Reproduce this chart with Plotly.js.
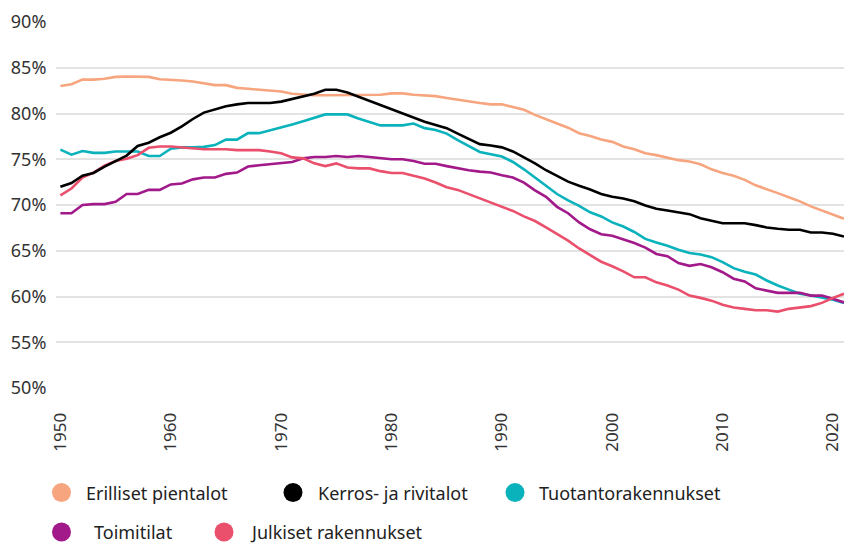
<!DOCTYPE html>
<html>
<head>
<meta charset="utf-8">
<script src="https://cdn.plot.ly/plotly-3.0.1.min.js"></script>
<style>
  html, body { margin: 0; padding: 0; background: #fff; }
  #chart { width: 844px; height: 543px; }
</style>
</head>
<body>
<div id="chart"></div>
<script>
// Years 1950–2021
const years = [];
for (let y = 1950; y <= 2021; y++) years.push(y);

const seriesNames = ["Erilliset pientalot", "Kerros- ja rivitalot", "Tuotantorakennukset", "Toimitilat", "Julkiset rakennukset"];
const seriesColors = ["#F6A57F", "#000000", "#0AB2BC", "#A2198A", "#EA4F6C"];

const erilliset = [
  83.0, 83.2, 83.7, 83.7, 83.8, 84.0, 84.05, 84.05, 84.0, 83.75,
  83.7, 83.6, 83.5, 83.3, 83.1, 83.1, 82.8, 82.7, 82.6, 82.45,
  82.4, 82.15, 82.05, 82.0, 82.0, 82.0, 82.0, 82.05, 82.05, 82.05,
  82.2, 82.2, 82.05, 82.0, 81.9, 81.7, 81.5, 81.3, 81.15, 81.0,
  81.0, 80.7, 80.4, 79.85, 79.35, 78.9, 78.45, 77.85, 77.55, 77.15,
  76.9, 76.4, 76.1, 75.65, 75.45, 75.2, 74.9, 74.75, 74.45, 73.9,
  73.5, 73.2, 72.75, 72.15, 71.75, 71.3, 70.85, 70.4, 69.85, 69.4,
  68.95, 68.5
];
const kerros = [
  72.0, 72.4, 73.2, 73.5, 74.2, 74.8, 75.4, 76.45, 76.8, 77.4,
  77.9, 78.6, 79.4, 80.1, 80.45, 80.8, 81.0, 81.15, 81.15, 81.15,
  81.3, 81.6, 81.9, 82.15, 82.6, 82.6, 82.3, 81.85, 81.35, 80.9,
  80.45, 80.0, 79.6, 79.1, 78.75, 78.4, 77.8, 77.2, 76.65, 76.5,
  76.3, 75.85, 75.2, 74.55, 73.8, 73.2, 72.55, 72.1, 71.7, 71.2,
  70.9, 70.7, 70.4, 69.95, 69.6, 69.4, 69.2, 69.0, 68.55, 68.3,
  68.0, 68.0, 68.0, 67.8, 67.55, 67.4, 67.3, 67.3, 67.0, 67.0,
  66.85, 66.55
];
const tuotanto = [
  76.05, 75.5, 75.9, 75.7, 75.7, 75.85, 75.85, 75.85, 75.35, 75.35,
  76.15, 76.3, 76.3, 76.35, 76.55, 77.15, 77.15, 77.85, 77.85, 78.15,
  78.45, 78.8, 79.15, 79.5, 79.9, 79.9, 79.9, 79.45, 79.1, 78.7,
  78.7, 78.7, 78.9, 78.4, 78.2, 77.8, 77.1, 76.45, 75.8, 75.55,
  75.3, 74.7, 73.9, 73.0, 72.1, 71.2, 70.5, 69.9, 69.2, 68.75,
  68.1, 67.65, 67.05, 66.3, 65.9, 65.55, 65.1, 64.75, 64.6, 64.3,
  63.75, 63.1, 62.7, 62.4, 61.75, 61.2, 60.75, 60.3, 60.1, 59.9,
  59.65, 59.3
];
const toimitilat = [
  69.1, 69.1, 70.0, 70.1, 70.1, 70.35, 71.2, 71.2, 71.65, 71.65,
  72.25, 72.35, 72.8, 73.0, 73.0, 73.4, 73.55, 74.2, 74.35, 74.45,
  74.55, 74.7, 75.1, 75.25, 75.25, 75.35, 75.25, 75.35, 75.25, 75.1,
  75.0, 75.0, 74.8, 74.5, 74.5, 74.25, 74.0, 73.8, 73.65, 73.55,
  73.25, 73.0, 72.45, 71.6, 70.9, 69.8, 69.1, 68.1, 67.35, 66.8,
  66.65, 66.25, 65.85, 65.35, 64.65, 64.4, 63.65, 63.35, 63.55, 63.2,
  62.65, 61.95, 61.65, 60.9, 60.65, 60.4, 60.4, 60.4, 60.1, 60.1,
  59.75, 59.35
];
const julkiset = [
  71.05, 71.8, 73.0, 73.55, 74.3, 74.8, 75.05, 75.45, 76.25, 76.4,
  76.4, 76.3, 76.2, 76.1, 76.1, 76.1, 76.0, 76.0, 76.0, 75.85,
  75.65, 75.2, 75.1, 74.55, 74.25, 74.55, 74.1, 74.0, 74.0, 73.7,
  73.5, 73.5, 73.2, 72.9, 72.45, 71.95, 71.65, 71.2, 70.7, 70.3,
  69.85, 69.35, 68.75, 68.25, 67.55, 66.8, 66.1, 65.25, 64.5, 63.8,
  63.3, 62.75, 62.1, 62.1, 61.55, 61.2, 60.75, 60.1, 59.85, 59.55,
  59.1, 58.8, 58.65, 58.5, 58.5, 58.35, 58.65, 58.8, 58.95, 59.3,
  59.85, 60.3
];

const yTickVals = [50, 55, 60, 65, 70, 75, 80, 85, 90];
const yTickText = ["50%", "55%", "60%", "65%", "70%", "75%", "80%", "85%", "90%"];
const xTickVals = [1950, 1960, 1970, 1980, 1990, 2000, 2010, 2020];
const xTickText = ["1950", "1960", "1970", "1980", "1990", "2000", "2010", "2020"];

const allSeries = [erilliset, kerros, tuotanto, toimitilat, julkiset];
const drawOrder = [0, 2, 3, 4, 1];

const traces = drawOrder.map(i => ({
  type: "scatter",
  mode: "lines",
  x: years,
  y: allSeries[i],
  name: seriesNames[i],
  line: { color: seriesColors[i], width: 2.6, shape: "linear" },
  hoverinfo: "x+y+name",
  showlegend: false
}));

// Custom legend positions (pixels)
const W = 844, H = 543;
const mL = 56, mR = 0, mT = 22, mB = 155;
const pw = W - mL - mR, ph = H - mT - mB;
const px2x = p => (p - mL) / pw;
const py2y = p => (H - mB - p) / ph;

const legendItems = [
  { idx: 0, cx: 61.5, cy: 492.5, tx: 84 },
  { idx: 1, cx: 293, cy: 492.5, tx: 316 },
  { idx: 2, cx: 515, cy: 492.5, tx: 537 },
  { idx: 3, cx: 61.5, cy: 532, tx: 92 },
  { idx: 4, cx: 224, cy: 532, tx: 248 }
];

const shapes = legendItems.map(it => ({
  type: "circle",
  xref: "paper", yref: "paper",
  xsizemode: "pixel", ysizemode: "pixel",
  xanchor: px2x(it.cx), yanchor: py2y(it.cy),
  x0: -9.5, x1: 9.5, y0: -9.5, y1: 9.5,
  fillcolor: seriesColors[it.idx],
  line: { width: 0 }
}));

const annotations = legendItems.map(it => ({
  xref: "paper", yref: "paper",
  x: px2x(it.tx), y: py2y(it.cy),
  xanchor: "left", yanchor: "middle",
  text: seriesNames[it.idx],
  showarrow: false,
  font: { family: "Noto Sans, Open Sans, sans-serif", size: 18, color: "#222" }
}));

const layout = {
  width: W, height: H,
  margin: { l: mL, r: mR, t: mT, b: mB, pad: 0 },
  paper_bgcolor: "#fff",
  plot_bgcolor: "#fff",
  showlegend: false,
  font: { family: "Noto Sans, Open Sans, sans-serif", color: "#333" },
  xaxis: {
    range: [1949.6, 2021],
    tickvals: xTickVals,
    ticktext: xTickText,
    tickangle: -90,
    showgrid: false,
    zeroline: false,
    showline: false,
    ticks: "outside",
    ticklen: 17,
    tickcolor: "rgba(0,0,0,0)",
    tickfont: { size: 17, color: "#333" },
    fixedrange: true
  },
  yaxis: {
    range: [50, 90],
    tickvals: yTickVals,
    ticktext: yTickText,
    showgrid: true,
    gridcolor: "#e3e3e3",
    gridwidth: 2,
    zeroline: false,
    showline: false,
    ticks: "outside",
    ticklen: 5,
    tickcolor: "rgba(0,0,0,0)",
    tickfont: { size: 18, color: "#333" },
    fixedrange: true
  },
  shapes: shapes,
  annotations: annotations
};

Plotly.newPlot("chart", traces, layout, { displayModeBar: false, staticPlot: true });
</script>
</body>
</html>
